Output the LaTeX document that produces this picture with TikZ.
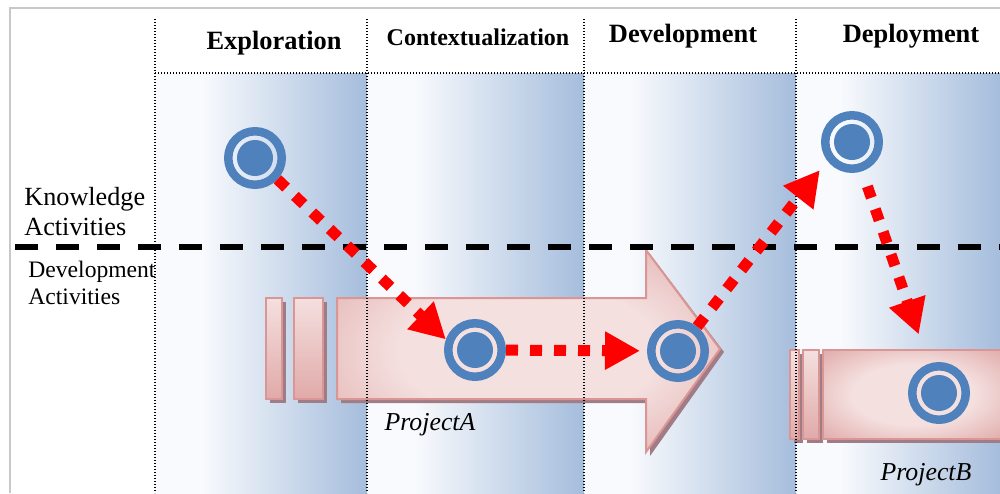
\documentclass[tikz,border=0pt]{standalone}
\usepackage{fontspec}
\setmainfont{Liberation Serif}
\usepackage{tikz}
\usetikzlibrary{arrows.meta}

\definecolor{phaseL}{RGB}{248,250,253}
\definecolor{phaseR}{RGB}{165,189,220}
\definecolor{tgtblue}{RGB}{79,129,189}
\definecolor{projfill}{RGB}{244,224,223}
\definecolor{projdark}{RGB}{224,170,169}
\definecolor{projline}{RGB}{217,150,148}
\definecolor{projshade}{RGB}{160,124,134}
\definecolor{framegray}{RGB}{200,200,200}
\pgfdeclarehorizontalshading{phaseshade}{100bp}{color(0bp)=(phaseL); color(36bp)=(phaseL); color(75bp)=(phaseR); color(100bp)=(phaseR)}
\pgfdeclareradialshading{projglow}{\pgfpoint{0bp}{0bp}}{color(0bp)=(projfill); color(17bp)=(projfill); color(36bp)=(projdark); color(50bp)=(projdark)}

\begin{document}
\begin{tikzpicture}[x=0.5pt,y=-0.5pt,
    target/.style={circle,draw=tgtblue,line width=4.25pt,minimum size=26.75pt,inner sep=0pt,
        path picture={\fill[tgtblue] (path picture bounding box.center) circle (9pt);}},
    flow/.style={red,line width=5.5pt,dash pattern=on 6pt off 6pt,-{Triangle[length=17.5pt,width=18pt]}},
    phase/.style={anchor=base,inner sep=0pt,font=\fontsize{13.2}{15}\selectfont\bfseries},
    proj/.style={draw=projline,line width=1pt,shading=projglow},
    bar/.style={draw=projline,line width=1pt,top color=projfill,bottom color=projdark},
    sep/.style={line width=0.6pt,dash pattern=on 0.6pt off 0.9pt}]
    \useasboundingbox (0,0) rectangle (1000,493);

    % Frame
    \draw[framegray,line width=1.2pt] (10,493) -- (10,8) -- (1000,8);

    % Phase columns
    \foreach \a/\b in {155/367,367/584,584/796,796/1000}
        \shade[shading=phaseshade] (\a,73) rectangle (\b,493);

    % Project A
    \foreach \a/\b in {266/282,294/323} {
        \fill[projshade] (\a+4,302) rectangle (\b+4,403);
        \draw[bar] (\a,298) rectangle (\b,399);
    }
    \fill[projshade] (341,302) -- (650,302) -- (650,254) -- (724,352) -- (650,456) -- (650,403) -- (341,403) -- cycle;
    \draw[proj] (337,298) -- (646,298) -- (646,250) -- (720,349) -- (646,452) -- (646,399) -- (337,399) -- cycle;

    % Project B
    \foreach \a/\b in {790/799,803/819} {
        \fill[projshade] (\a+4,354) rectangle (\b+4,443);
        \draw[bar] (\a,350) rectangle (\b,439);
    }
    \fill[projshade] (827,354) rectangle (1004,443);
    \draw[proj] (823,350) rectangle (1003,439);

    % Phase separators
    \foreach \x in {155,367,584,796}
        \draw[sep] (\x,19) -- (\x,493);
    \draw[sep] (155,73) -- (1000,73);

    % Knowledge / development border
    \draw[line width=3pt,dash pattern=on 11.5pt off 9pt] (15,247) -- (1000,247);

    % Labels
    \node[phase] (explo) at (274,49) {Exploration};
    \node[phase,font=\fontsize{12}{14}\selectfont\bfseries] (context) at (478,45) {Contextualization};
    \node[phase] (develop) at (683,42) {Development};
    \node[phase] (deploy) at (911,42) {Deployment};
    \node[anchor=north west,align=left,inner sep=0pt,font=\fontsize{13.1}{15}\selectfont] (know) at (24,187) {Knowledge\\Activities};
    \node[anchor=north west,align=left,inner sep=0pt,font=\fontsize{11.8}{13.5}\selectfont] (dev) at (28,261) {Development\\Activities};
    \node[anchor=base,font=\fontsize{12.9}{15}\selectfont\itshape] (projA) at (430,430) {ProjectA};
    \node[anchor=base,font=\fontsize{12.9}{15}\selectfont\itshape] (projB) at (926,480) {ProjectB};

    % Targets
    \node[target] (c1) at (255,158) {};
    \node[target] (c2) at (475,350) {};
    \node[target] (c3) at (678,351) {};
    \node[target] (c4) at (852,142) {};
    \node[target] (c5) at (939,393) {};

    % Flow
    \draw[flow] (c1) -- (c2.160);
    \draw[flow,shorten >=3.5pt] (c2) -- (c3);
    \draw[flow,shorten >=6pt] (c3) -- (c4.217);
    \draw[flow,shorten <=8pt,shorten >=15.5pt] (c4) -- (c5);
\end{tikzpicture}
\end{document}
